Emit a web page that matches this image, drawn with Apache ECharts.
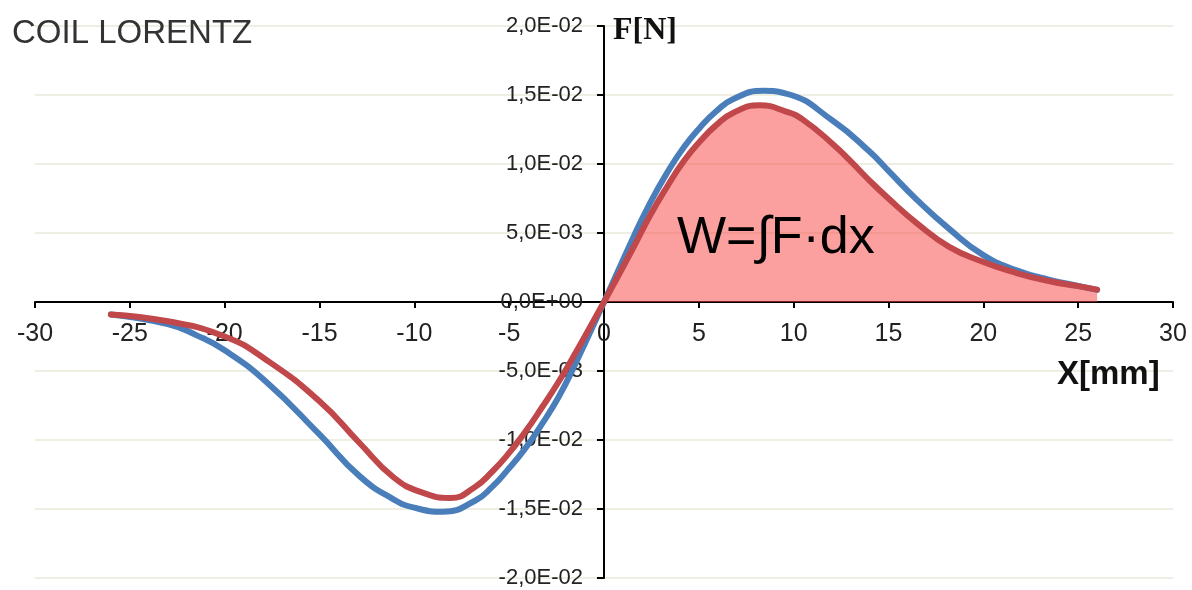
<!DOCTYPE html>
<html>
<head>
<meta charset="utf-8">
<script src="https://cdn.jsdelivr.net/npm/echarts@6/dist/echarts.min.js"></script>
<style>
html,body{margin:0;padding:0;background:#fff;}
#chart{width:1192px;height:590px;}
</style>
</head>
<body>
<div id="chart"></div>
<script>
// X positions (mm) and forces (N)
var xBlue = [-26, -23, -21.5, -20, -17.8, -15, -12.9, -11.1, -10, -8.5, -6.8, -5.9, -5.1, -4.2, -3.3, -2.4, -1.55, 0, 1.55, 2.4, 3.3, 4.2, 5.1, 5.9, 6.8, 8.4, 9.6, 12.1, 14.0, 15.0, 16.5, 18.2, 20.0, 21.75, 23.5, 25.0, 26.0];
var yBlue = [-0.0009, -0.0016, -0.0024, -0.0035, -0.0058, -0.0096, -0.0126, -0.0143, -0.0149, -0.0152, -0.0144, -0.0134, -0.0122, -0.0107, -0.0089, -0.0069, -0.0046, 0, 0.0047, 0.0071, 0.0093, 0.0112, 0.0127, 0.0138, 0.0147, 0.0153, 0.0151, 0.0131, 0.0109, 0.0095, 0.0074, 0.0053, 0.0034, 0.0023, 0.0016, 0.00117, 0.00088];
var xRed = [-26, -23, -20, -17.8, -15, -12.9, -11.1, -9.6, -8.1, -6.8, -5.9, -5.1, -4.2, -3.3, -2.4, -1.55, 0, 1.55, 2.4, 3.3, 4.2, 5.1, 5.9, 6.8, 8.2, 9.6, 10.5, 12.1, 13.0, 14.0, 15.0, 16.5, 18.2, 20.0, 21.75, 23.5, 25.0, 26.0];
var yRed = [-0.0009, -0.0014, -0.0025, -0.0042, -0.0072, -0.0102, -0.0127, -0.0138, -0.0142, -0.0134, -0.0123, -0.0111, -0.0095, -0.0077, -0.0058, -0.0038, 0, 0.00395, 0.0062, 0.0083, 0.0102, 0.0117, 0.0128, 0.0137, 0.01425, 0.0138, 0.0132, 0.0114, 0.0102, 0.0088, 0.0075, 0.0057, 0.0040, 0.0029, 0.0021, 0.0015, 0.00115, 0.0009];
var xTicks = {min: -30, max: 30, step: 5};
var yTicks = {min: -0.02, max: 0.02, step: 0.005};
var titleText = 'COIL LORENTZ';
var yName = 'F[N]';
var xName = 'X[mm]';
var formulaText = 'W=\u222BF\u00B7dx';

function pairs(xs, ys) { return xs.map(function (x, i) { return [x, ys[i]]; }); }
var blueData = pairs(xBlue, yBlue);
var redData = pairs(xRed, yRed);
var areaData = redData.filter(function (p) { return p[0] >= 0; });

function fmtE(v) {
  if (Math.abs(v) < 1e-12) return '0,0E+00';
  var s = v.toExponential(1).split('e');
  var mant = s[0].replace('.', ',');
  var e = parseInt(s[1], 10);
  var ae = Math.abs(e);
  return mant + 'E' + (e < 0 ? '-' : '+') + (ae < 10 ? '0' : '') + ae;
}

var GRID = {left: 35, right: 19, top: 26, bottom: 12};
var W = 1192, H = 590;
var chart = echarts.init(document.getElementById('chart'), null, {renderer: 'canvas'});
var sans = 'Liberation Sans, Arial, sans-serif';
chart.setOption({
  animation: false,
  backgroundColor: '#ffffff',
  grid: {left: GRID.left, right: GRID.right, top: GRID.top, bottom: GRID.bottom, containLabel: false, outerBoundsMode: 'none'},
  xAxis: {
    type: 'value',
    min: xTicks.min, max: xTicks.max, interval: xTicks.step,
    axisLine: {onZero: false, lineStyle: {color: '#000', width: 2}},
    axisTick: {show: true, inside: false, length: 6, lineStyle: {color: '#000', width: 2}},
    axisLabel: {margin: 20, fontSize: 25, color: '#222', fontFamily: sans, showMinLabel: true, showMaxLabel: true},
    splitLine: {show: false}
  },
  yAxis: {
    type: 'value',
    min: yTicks.min, max: yTicks.max, interval: yTicks.step,
    axisLine: {onZero: false, lineStyle: {color: '#000', width: 2}},
    axisTick: {show: true, inside: false, length: 7, lineStyle: {color: '#000', width: 2}},
    axisLabel: {margin: 21, fontSize: 22, color: '#222', fontFamily: sans, formatter: fmtE, showMinLabel: true, showMaxLabel: true},
    splitLine: {show: true, lineStyle: {color: '#e9e8d8', width: 1.5}}
  },
  series: [
    {
      type: 'line', data: areaData, smooth: true, symbol: 'none',
      lineStyle: {width: 0, opacity: 0},
      areaStyle: {color: 'rgba(250,64,64,0.5)', opacity: 1, origin: 'auto'},
      z: 1, silent: true
    },
    {
      type: 'line', data: blueData, smooth: true, symbol: 'none',
      lineStyle: {color: '#4a7ebb', width: 6, cap: 'round'}, z: 2
    },
    {
      type: 'line', data: redData, smooth: true, symbol: 'none',
      lineStyle: {color: '#c0474a', width: 6, cap: 'round'}, z: 3
    }
  ],
  graphic: [
    {type: 'text', z: 100, left: 12, top: 17, style: {text: titleText, fontSize: 33, fontFamily: sans, fill: '#333'}},
    {type: 'text', z: 100, left: 613, top: 15, style: {text: yName, fontSize: 32, fontWeight: 'bold', fontFamily: 'Liberation Serif, Times New Roman, serif', fill: '#111'}},
    {type: 'text', z: 100, left: 1057, top: 358, style: {text: xName, fontSize: 33, fontWeight: 'bold', fontFamily: sans, fill: '#111'}},
    {type: 'text', z: 100, left: 677, top: 213, style: {text: formulaText, fontSize: 52, fontFamily: sans, fill: '#000'}}
  ]
});
// Move both axes (line, ticks, labels) to cross at the origin, using the library's own scale
var origin = chart.convertToPixel({gridIndex: 0}, [0, 0]);
var gridBottomY = H - GRID.bottom;
chart.setOption({
  xAxis: {offset: -(gridBottomY - origin[1])},
  yAxis: {offset: -(origin[0] - GRID.left)}
});
</script>
</body>
</html>
